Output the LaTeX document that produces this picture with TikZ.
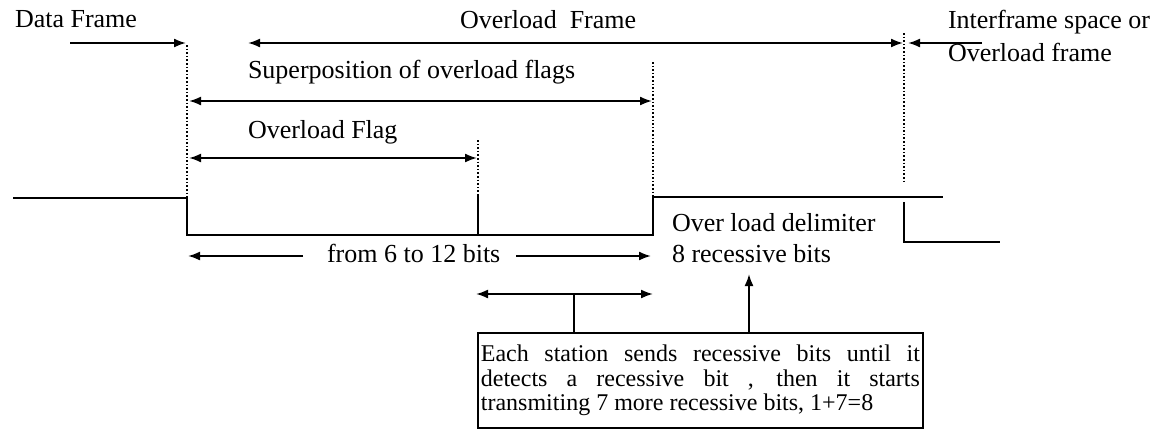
\documentclass[tikz,border=0pt]{standalone}
\usepackage{fontspec}
\setmainfont{Liberation Serif}
\usetikzlibrary{arrows.meta}
\begin{document}
\begin{tikzpicture}[x=1pt,y=-1pt,
  lbl/.style={font=\fontsize{26}{33}\selectfont, inner sep=0pt, outer sep=0pt},
  boxtext/.style={draw, line width=1.8pt, inner xsep=3pt, inner ysep=0pt,
    minimum height=95pt, text width=439pt, align=justify,
    font=\fontsize{24}{24.5}\selectfont},
  tip/.tip={Latex[length=12pt,width=9pt]},
  onearrow/.style={line width=1.9pt, -tip},
  twoarrow/.style={line width=1.9pt, tip-tip},
  plain/.style={line width=1.9pt},
  guide/.style={line width=1.6pt, dotted},
  sig/.style={line width=2.1pt}]
\useasboundingbox (0,0) rectangle (1169,429);

% frame boundaries
\coordinate (b1top) at (187,45);
\coordinate (b1) at (187,198);
\coordinate (b2top) at (478,140);
\coordinate (b2) at (478,196);
\coordinate (b3top) at (653,62);
\coordinate (b3) at (653,197);
\coordinate (b4top) at (904,33);
\coordinate (b4) at (904,184);

% bus signal level
\coordinate (s0) at (13,198);
\coordinate (s1) at (187,198);
\coordinate (s2) at (187,235);
\coordinate (s3) at (653,235);
\coordinate (s4) at (653,197);
\coordinate (s5) at (943,197);
\coordinate (s6) at (904,202);
\coordinate (s7) at (904,242);
\coordinate (s8) at (1000,242);
\coordinate (tk) at (478,235);

\draw[sig] (s0) -- (s1) -- (s2) -- (s3) -- (s4) -- (s5);
\draw[sig] (s6) -- (s7) -- (s8);
\draw[sig] (b2) -- (tk);

\draw[guide] (b1top) -- (b1);
\draw[guide] (b2top) -- (b2);
\draw[guide] (b3top) -- (b3);
\draw[guide] (b4top) -- (b4);

% labels
\node[lbl, anchor=base west] (df) at (15,27) {Data Frame};
\node[lbl, anchor=base west] (of) at (460,28) {Overload\ \ Frame};
\node[lbl, anchor=north west, align=left] (ifs) at (948,10) {Interframe space or\\Overload frame};
\node[lbl, anchor=base west] (sup) at (248,78) {Superposition of overload flags};
\node[lbl, anchor=base west] (flag) at (248,138) {Overload Flag};
\node[lbl, anchor=base west] (bits) at (327,262) {from 6 to 12 bits};
\node[lbl, anchor=base west] (del1) at (672,231) {Over load delimiter};
\node[lbl, anchor=base west] (del2) at (672,262) {8 recessive bits};

% dimension arrows
\coordinate (dfA) at (70,43);
\coordinate (dfB) at (186,43);
\coordinate (ofA) at (248,43);
\coordinate (ofB) at (903,43);
\coordinate (ifA) at (982,43);
\coordinate (ifB) at (908,43);
\draw[onearrow] (dfA) -- (dfB);
\draw[twoarrow] (ofA) -- (ofB);
\draw[onearrow] (ifA) -- (ifB);

\coordinate (spA) at (189,101);
\coordinate (spB) at (652,101);
\draw[twoarrow] (spA) -- (spB);
\coordinate (flA) at (189,158);
\coordinate (flB) at (477,158);
\draw[twoarrow] (flA) -- (flB);

\coordinate (btA) at (303,256);
\coordinate (btB) at (188,256);
\coordinate (btC) at (516,256);
\coordinate (btD) at (651,256);
\draw[onearrow] (btA) -- (btB);
\draw[onearrow] (btC) -- (btD);

% explanation box
\node[boxtext, anchor=north west] (note) at (477,332)
  {Each station sends recessive bits until it\linebreak
   detects a recessive bit , then it starts\linebreak
   transmiting 7 more recessive bits, 1+7=8};

\coordinate (rbA) at (476,294);
\coordinate (rbB) at (653,294);
\coordinate (rbM) at (574,294);
\draw[twoarrow] (rbA) -- (rbB);
\draw[plain] (rbM) -- (rbM |- note.north);

\coordinate (upT) at (749,274);
\draw[onearrow] (upT |- note.north) -- (upT);
\end{tikzpicture}
\end{document}
